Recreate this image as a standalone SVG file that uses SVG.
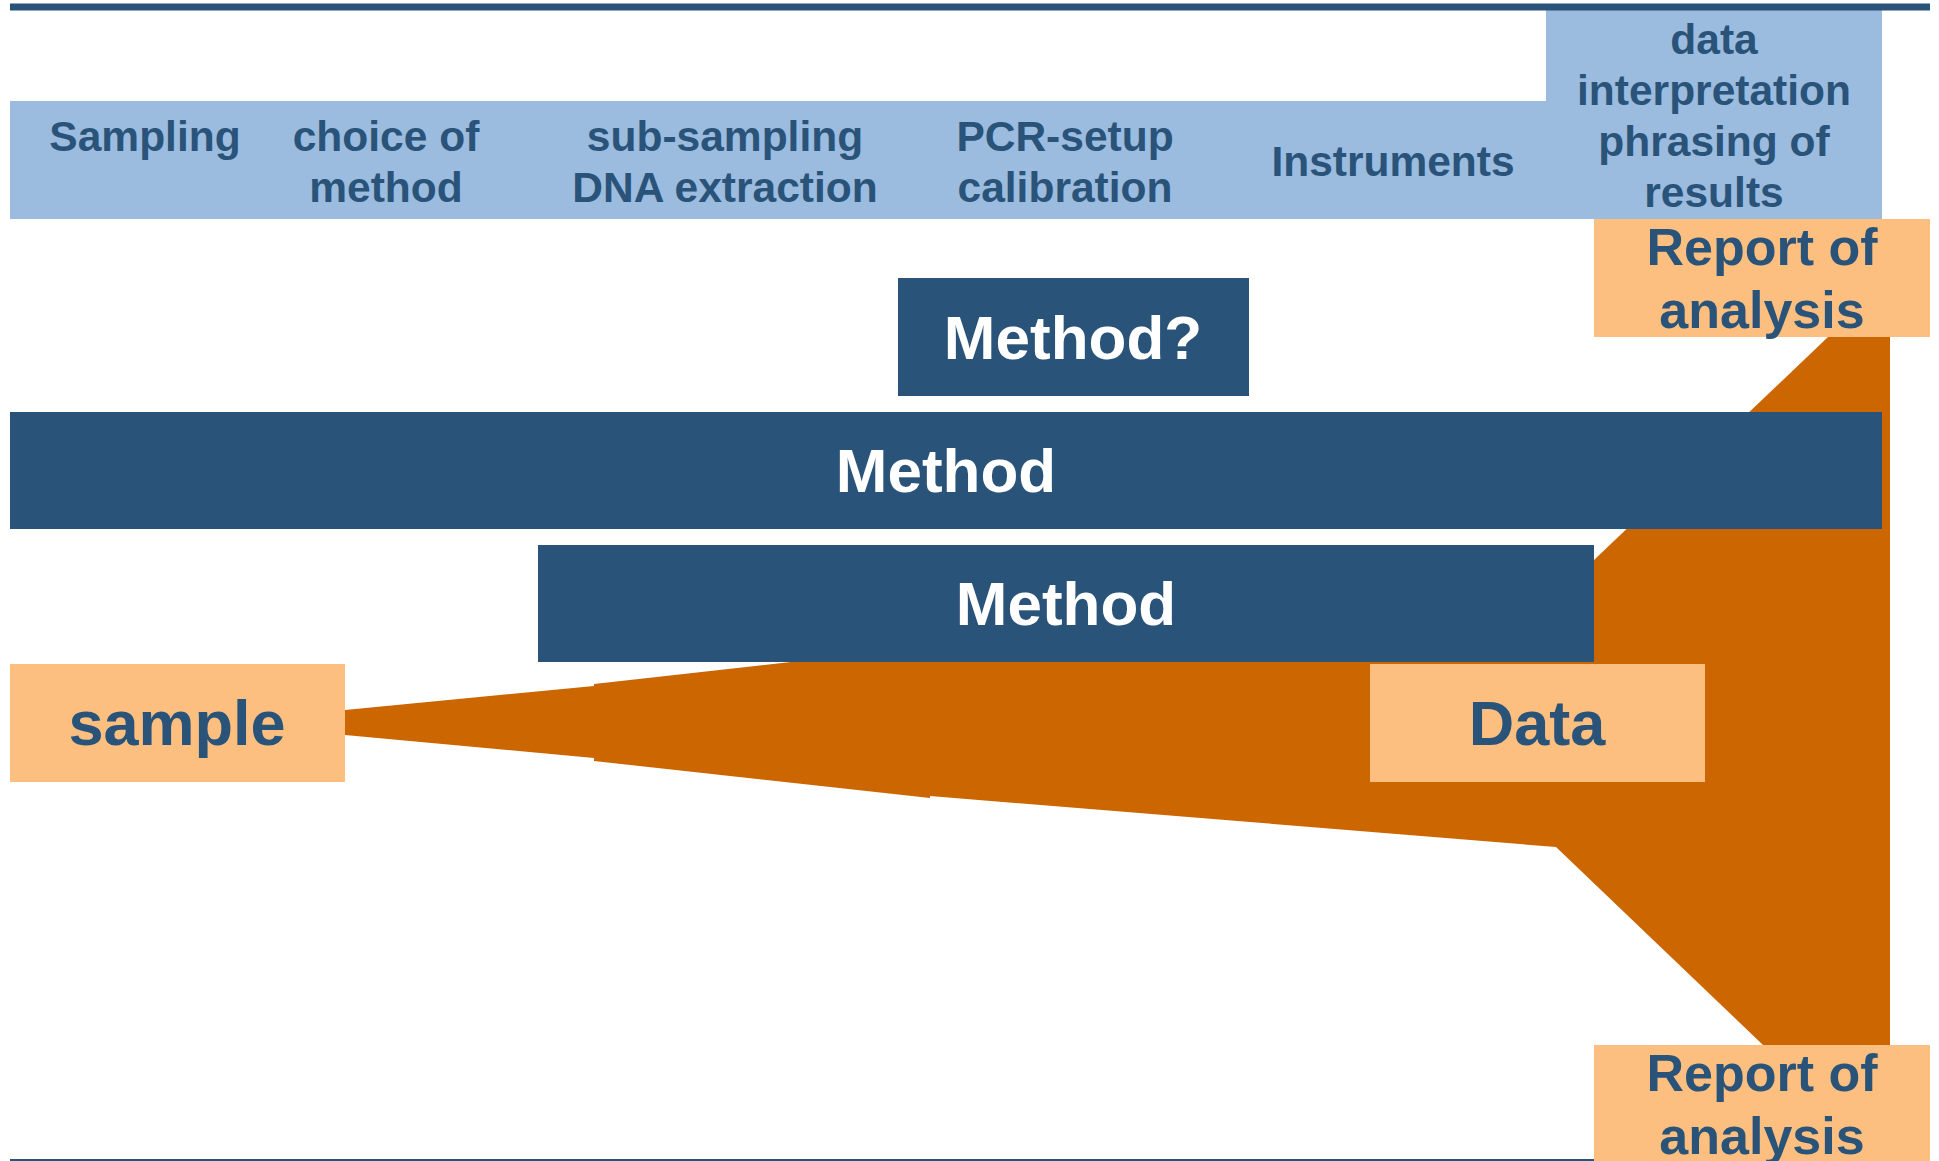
<svg xmlns="http://www.w3.org/2000/svg" width="1939" height="1161" viewBox="0 0 1939 1161">
  <style>
    .band { fill: #9BBBDF; }
    .dark { fill: #2A5379; }
    .light { fill: #FDBF7F; }
    .flow { fill: #CC6600; }
    text { font-family: "Liberation Sans", Arial, sans-serif; font-weight: bold; text-anchor: middle; }
    .step { font-size: 42.5px; fill: #2A5379; }
    .big { font-size: 63px; fill: #2A5379; }
    .bigw { font-size: 62px; fill: #FFFFFF; }
    .rep { font-size: 52px; fill: #2A5379; }
  </style>

  <rect width="1939" height="1161" fill="#FFFFFF"/>

  <!-- header band with process steps -->
  <g id="steps">
    <rect class="band" x="10" y="101" width="1872" height="118"/>
    <rect class="band" x="1546" y="10" width="336" height="209"/>
    <text class="step" x="145" y="151">Sampling</text>
    <text class="step" x="386" y="151">choice of</text>
    <text class="step" x="386" y="202">method</text>
    <text class="step" x="725" y="151">sub-sampling</text>
    <text class="step" x="725" y="202">DNA extraction</text>
    <text class="step" x="1065" y="151">PCR-setup</text>
    <text class="step" x="1065" y="202">calibration</text>
    <text class="step" x="1393" y="176">Instruments</text>
    <text class="step" x="1714" y="54">data</text>
    <text class="step" x="1714" y="105">interpretation</text>
    <text class="step" x="1714" y="156">phrasing of</text>
    <text class="step" x="1714" y="207">results</text>
  </g>

  <!-- frame rules -->
  <rect class="dark" x="10" y="3.5" width="1920" height="7"/>
  <rect class="dark" x="10" y="1159" width="1920" height="2"/>

  <!-- sample-to-report funnel -->
  <g id="connectors">
    <polygon class="flow" points="345,710 594,686 594,684 800,661 1594,580 1594,560 1828,337 1890,337 1890,1045 1763,1045 1556,847 1250,822 930,796 930,798 594,761 594,758 345,735"/>
  </g>

  <g id="method-question">
    <rect class="dark" x="898" y="278" width="351" height="118"/>
    <text class="bigw" x="1073" y="359">Method?</text>
  </g>

  <g id="method-main">
    <rect class="dark" x="10" y="412" width="1872" height="117"/>
    <text class="bigw" x="946" y="492">Method</text>
  </g>

  <g id="method-lab">
    <rect class="dark" x="538" y="545" width="1056" height="117"/>
    <text class="bigw" x="1066" y="625">Method</text>
  </g>

  <g id="sample">
    <rect class="light" x="10" y="664" width="335" height="118"/>
    <text class="big" x="177" y="745">sample</text>
  </g>

  <g id="data">
    <rect class="light" x="1370" y="664" width="335" height="118"/>
    <text class="big" x="1537" y="745">Data</text>
  </g>

  <g id="report-top">
    <rect class="light" x="1594" y="219" width="336" height="118"/>
    <text class="rep" x="1762" y="265">Report of</text>
    <text class="rep" x="1762" y="328">analysis</text>
  </g>

  <g id="report-bottom">
    <rect class="light" x="1594" y="1045" width="336" height="116"/>
    <text class="rep" x="1762" y="1091">Report of</text>
    <text class="rep" x="1762" y="1154">analysis</text>
  </g>
</svg>
